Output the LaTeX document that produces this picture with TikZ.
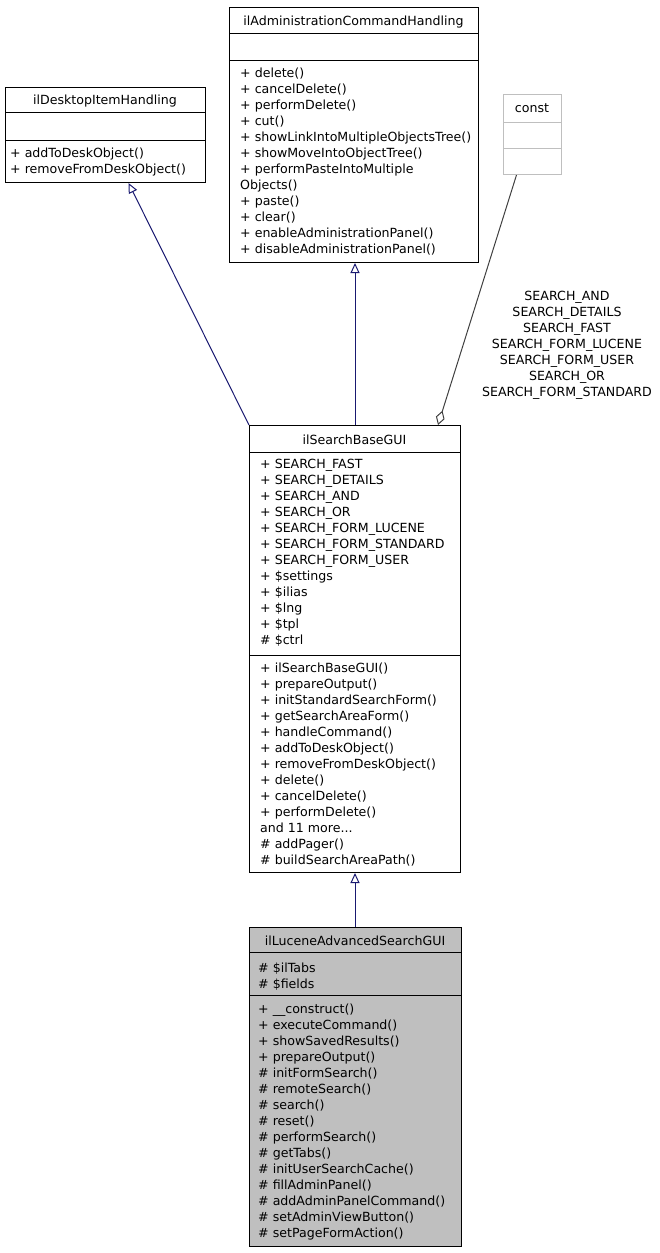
\documentclass[tikz,border=0pt]{standalone}
\usepackage{fontspec}
\setmainfont{DejaVu Sans}
\usetikzlibrary{arrows.meta,calc}
\definecolor{navy}{HTML}{191970}
\definecolor{dgray}{HTML}{404040}
\definecolor{lgray}{HTML}{BFBFBF}
\newcommand{\fs}{\fontsize{12.6}{16}\selectfont}
\newcommand{\st}{\rule{0pt}{12pt}}
\begin{document}
\begin{tikzpicture}[x=1pt,y=-1pt,
  cls/.style={draw=black, line width=1pt, fill=white, inner sep=0pt, anchor=north west},
  sep/.style={draw=black, line width=1pt},
  lbl/.style={inner sep=0pt, anchor=north west, align=left, font=\fs},
  ttl/.style={inner sep=0pt, anchor=north, align=center, font=\fs},
  gen/.style={draw=navy, line width=1pt, -{Triangle[open, length=10pt, width=9pt]}},
  agg/.style={draw=dgray, line width=1pt, -{Diamond[open, length=15pt, width=9pt]}},
]
\useasboundingbox (0,0) rectangle (660,1253);

% ilDesktopItemHandling
\node[cls, minimum width=200pt, minimum height=95pt] (dk) at (5,87) {};
\draw[sep] (5,112) -- (205,112);
\draw[sep] (5,140) -- (205,140);
\node[ttl] (dkt) at (105,92) {\st ilDesktopItemHandling};
\node[lbl] (dkm) at (10,145) {\st + addToDeskObject()\\+ removeFromDeskObject()};

% ilAdministrationCommandHandling
\node[cls, minimum width=249pt, minimum height=255pt] (adm) at (229,7) {};
\draw[sep] (229,33) -- (478,33);
\draw[sep] (229,60) -- (478,60);
\node[ttl] (admt) at (353.5,13) {\st ilAdministrationCommandHandling};
\node[lbl] (admm) at (240,65) {\st + delete()\\+ cancelDelete()\\+ performDelete()\\+ cut()\\+ showLinkIntoMultipleObjectsTree()\\+ showMoveIntoObjectTree()\\+ performPasteIntoMultiple\\Objects()\\+ paste()\\+ clear()\\+ enableAdministrationPanel()\\+ disableAdministrationPanel()};

% const
\node[cls, draw=lgray, minimum width=58pt, minimum height=80pt] (cst) at (503,94) {};
\draw[sep, draw=lgray] (503,122) -- (561,122);
\draw[sep, draw=lgray] (503,148) -- (561,148);
\node[ttl] (cstt) at (532,100) {\st const};

% ilSearchBaseGUI
\node[cls, minimum width=211pt, minimum height=447pt] (sb) at (249,425) {};
\draw[sep] (249,452) -- (460,452);
\draw[sep] (249,655) -- (460,655);
\node[ttl] (sbt) at (354.5,432) {\st ilSearchBaseGUI};
\node[lbl] (sba) at (260,456) {\st + SEARCH\_FAST\\+ SEARCH\_DETAILS\\+ SEARCH\_AND\\+ SEARCH\_OR\\+ SEARCH\_FORM\_LUCENE\\+ SEARCH\_FORM\_STANDARD\\+ SEARCH\_FORM\_USER\\+ \$settings\\+ \$ilias\\+ \$lng\\+ \$tpl\\\# \$ctrl};
\node[lbl] (sbm) at (260,660) {\st + ilSearchBaseGUI()\\+ prepareOutput()\\+ initStandardSearchForm()\\+ getSearchAreaForm()\\+ handleCommand()\\+ addToDeskObject()\\+ removeFromDeskObject()\\+ delete()\\+ cancelDelete()\\+ performDelete()\\and 11 more...\\\# addPager()\\\# buildSearchAreaPath()};

% ilLuceneAdvancedSearchGUI
\node[cls, fill=lgray, minimum width=212pt, minimum height=319pt] (luc) at (249,927) {};
\draw[sep] (249,952) -- (461,952);
\draw[sep] (249,995) -- (461,995);
\node[ttl] (luct) at (355,933) {\st ilLuceneAdvancedSearchGUI};
\node[lbl] (luca) at (258,960) {\st \# \$ilTabs\\\# \$fields};
\node[lbl] (lucm) at (258,1001) {\st + \_\_construct()\\+ executeCommand()\\+ showSavedResults()\\+ prepareOutput()\\\# initFormSearch()\\\# remoteSearch()\\\# search()\\\# reset()\\\# performSearch()\\\# getTabs()\\\# initUserSearchCache()\\\# fillAdminPanel()\\\# addAdminPanelCommand()\\\# setAdminViewButton()\\\# setPageFormAction()};

% connectors
\coordinate (dktip) at ($(dk.south)+(23,0)$);
\draw[gen] (sb.north west) -- (dktip);
\draw[gen] (sb.north) -- (sb.north |- adm.south);
\draw[gen] (luc.north -| sb.south) -- (sb.south);
\coordinate (cstfoot) at ($(cst.south)+(-16,0)$);
\coordinate (sbdia) at ($(sb.north)+(83,0)$);
\draw[agg] (cstfoot) -- (sbdia);
\node[ttl] (lab) at (567,288) {\st SEARCH\_AND\\SEARCH\_DETAILS\\SEARCH\_FAST\\SEARCH\_FORM\_LUCENE\\SEARCH\_FORM\_USER\\SEARCH\_OR\\SEARCH\_FORM\_STANDARD};
\end{tikzpicture}
\end{document}
